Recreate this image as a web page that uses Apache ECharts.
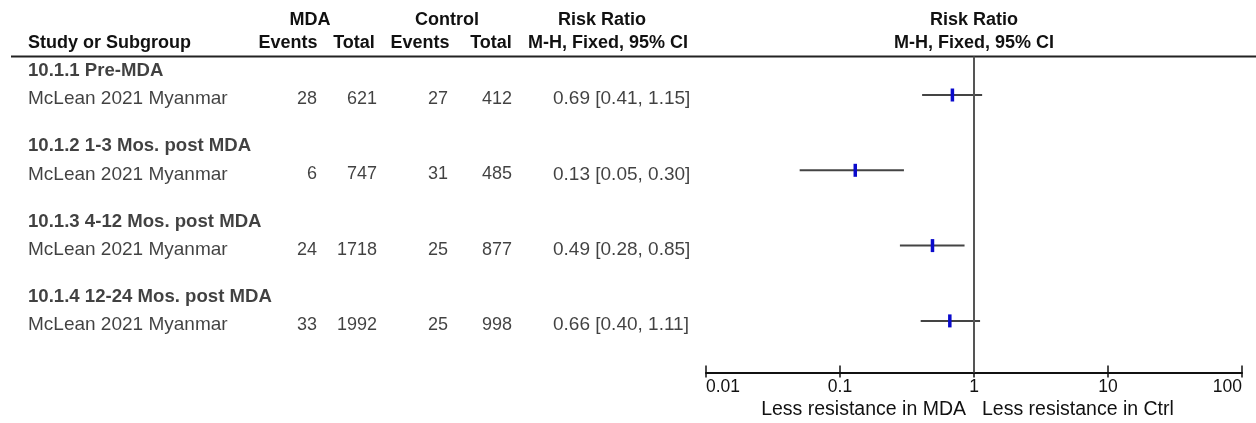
<!DOCTYPE html>
<html>
<head>
<meta charset="utf-8">
<script src="https://cdn.jsdelivr.net/npm/echarts@6/dist/echarts.min.js"></script>
<style>
html,body{margin:0;padding:0;background:#fff;}
#chart{width:1256px;height:423px;}
</style>
</head>
<body>
<div id="chart"></div>
<script>
// ---- data ----
const subgroups = ['10.1.1 Pre-MDA', '10.1.2 1-3 Mos. post MDA', '10.1.3 4-12 Mos. post MDA', '10.1.4 12-24 Mos. post MDA'];
const studies = ['McLean 2021 Myanmar', 'McLean 2021 Myanmar', 'McLean 2021 Myanmar', 'McLean 2021 Myanmar'];
const mdaEvents = [28, 6, 24, 33];
const mdaTotal = [621, 747, 1718, 1992];
const ctrlEvents = [27, 31, 25, 25];
const ctrlTotal = [412, 485, 877, 998];
const rr = [0.69, 0.13, 0.49, 0.66];
const ciLow = [0.41, 0.05, 0.28, 0.40];
const ciHigh = [1.15, 0.30, 0.85, 1.11];
const xTicks = [0.01, 0.1, 1, 10, 100];
const headerTop = ['MDA', 'Control', 'Risk Ratio', 'Risk Ratio'];
const headerBottom = ['Study or Subgroup', 'Events', 'Total', 'Events', 'Total', 'M-H, Fixed, 95% CI', 'M-H, Fixed, 95% CI'];
const favourLabels = ['Less resistance in MDA', 'Less resistance in Ctrl'];

// ---- layout ----
const FONT = '"Liberation Sans", Arial, sans-serif';
const NUM = 18, NAME = 19, BOLD = 18, SUB = 18.6;
const TXT = '#111';
const yMin = -0.53, yMax = 12.06;
const gridTop = 56.6, gridH = 316;
const groupRow = i => 3 * i;
const studyRow = i => 3 * i + 1;
const fmtCI = i => rr[i].toFixed(2) + ' [' + ciLow[i].toFixed(2) + ', ' + ciHigh[i].toFixed(2) + ']';

function textCol(x, values, align, size, bold, dy) {
  return {
    type: 'scatter', xAxisIndex: 2, yAxisIndex: 1, symbolSize: 0, silent: true,
    data: values.map(t => ({ value: [x, t.row], t: t.text })),
    label: {
      show: true, position: align === 'right' ? 'left' : 'right', distance: 0,
      formatter: p => p.data.t, fontFamily: FONT, fontSize: size,
      fontWeight: bold ? 'bold' : 'normal', color: TXT, offset: [0, dy || 0]
    }
  };
}

const chart = echarts.init(document.getElementById('chart'), null, { renderer: 'canvas' });

const hdrText = (text, x, y, align) => ({
  type: 'text', x: x, y: y, silent: true,
  style: { text: text, fill: TXT, font: 'bold ' + BOLD + 'px ' + FONT, textAlign: align || 'center', textVerticalAlign: 'middle' }
});
const regText = (text, x, y, align) => ({
  type: 'text', x: x, y: y, silent: true,
  style: { text: text, fill: TXT, font: '19.5px ' + FONT, textAlign: align || 'center', textVerticalAlign: 'middle' }
});

const option = {
  animation: false,
  backgroundColor: '#fff',
  grid: [
    { left: 706, top: gridTop, width: 536, height: gridH, containLabel: false },
    { left: 0, top: gridTop, width: 706, height: gridH, containLabel: false }
  ],
  xAxis: [
    {
      type: 'log', logBase: 10, min: 0.01, max: 100, gridIndex: 0, position: 'bottom',
      axisLine: { show: true, onZero: false, lineStyle: { color: '#111', width: 2 } },
      axisTick: { show: true, length: 5, lineStyle: { color: '#111', width: 1.5 } },
      axisLabel: {
        show: true, margin: 6, fontFamily: FONT, fontSize: 17.5, color: TXT,
        alignMinLabel: 'left', alignMaxLabel: 'right',
        formatter: v => { const k = xTicks.find(t => Math.abs(t - v) / t < 1e-6); return k !== undefined ? String(k) : ''; }
      },
      splitLine: { show: false }, minorTick: { show: false }
    },
    {
      type: 'log', logBase: 10, min: 0.01, max: 100, gridIndex: 0, position: 'bottom',
      axisLine: { show: false, onZero: false },
      axisTick: { show: true, inside: true, length: 7, lineStyle: { color: '#111', width: 1.5 } },
      axisLabel: { show: false }, splitLine: { show: false }
    },
    { type: 'value', gridIndex: 1, min: 0, max: 706, show: false }
  ],
  yAxis: [
    { type: 'value', gridIndex: 0, min: yMin, max: yMax, inverse: true, show: false },
    { type: 'value', gridIndex: 1, min: yMin, max: yMax, inverse: true, show: false }
  ],
  graphic: [
    { type: 'line', silent: true, shape: { x1: 11, y1: gridTop, x2: 1256, y2: gridTop }, style: { stroke: '#222', lineWidth: 2 } },
    hdrText(headerTop[0], 310, 20),
    hdrText(headerTop[1], 447, 20),
    hdrText(headerTop[2], 602, 20),
    hdrText(headerTop[3], 974, 20),
    hdrText(headerBottom[0], 28, 43, 'left'),
    hdrText(headerBottom[1], 288, 43),
    hdrText(headerBottom[2], 354, 43),
    hdrText(headerBottom[3], 420, 43),
    hdrText(headerBottom[4], 491, 43),
    hdrText(headerBottom[5], 608, 43),
    hdrText(headerBottom[6], 974, 43),
    regText(favourLabels[0], 966, 410, 'right'),
    regText(favourLabels[1], 982, 410, 'left')
  ],
  series: [
    {
      type: 'line', xAxisIndex: 0, yAxisIndex: 0, silent: true, symbol: 'none',
      data: [[1, yMin], [1, yMax]], lineStyle: { color: '#555', width: 2 }
    },
    {
      type: 'custom', xAxisIndex: 0, yAxisIndex: 0, silent: true,
      data: rr.map((v, i) => [ciLow[i], ciHigh[i], v, studyRow(i)]),
      encode: { x: [0, 1, 2], y: 3 },
      renderItem: (params, api) => {
        const a = api.coord([api.value(0), api.value(3)]);
        const b = api.coord([api.value(1), api.value(3)]);
        const m = api.coord([api.value(2), api.value(3)]);
        return {
          type: 'group', children: [
            { type: 'line', shape: { x1: a[0], y1: a[1], x2: b[0], y2: b[1] }, style: { stroke: '#444', lineWidth: 2 } },
            { type: 'rect', shape: { x: m[0] - 1.75, y: m[1] - 6.5, width: 3.5, height: 13 }, style: { fill: '#0a0acc' } }
          ]
        };
      }
    },
    textCol(28, subgroups.map((s, i) => ({ text: s, row: groupRow(i) })), 'left', SUB, true, 1),
    textCol(28, studies.map((s, i) => ({ text: s, row: studyRow(i) })), 'left', NAME, false, 4),
    textCol(317, mdaEvents.map((v, i) => ({ text: String(v), row: studyRow(i) })), 'right', NUM, false, 4),
    textCol(377, mdaTotal.map((v, i) => ({ text: String(v), row: studyRow(i) })), 'right', NUM, false, 4),
    textCol(448, ctrlEvents.map((v, i) => ({ text: String(v), row: studyRow(i) })), 'right', NUM, false, 4),
    textCol(512, ctrlTotal.map((v, i) => ({ text: String(v), row: studyRow(i) })), 'right', NUM, false, 4),
    textCol(553, rr.map((v, i) => ({ text: fmtCI(i), row: studyRow(i) })), 'left', NAME, false, 4)
  ]
};
chart.setOption(option);
</script>
</body>
</html>
